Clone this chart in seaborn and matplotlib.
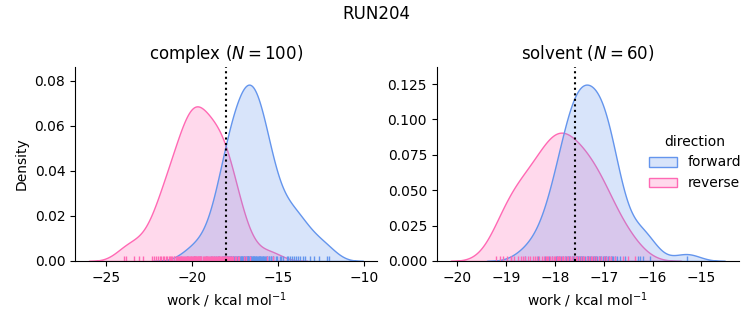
import matplotlib
matplotlib.use("Agg")
import matplotlib.pyplot as plt
import pandas as pd
import seaborn as sns

# ---- data (work values, kcal/mol) ----
complex_forward = [
    -20.31, -19.88, -19.57, -19.18, -18.93,
    -18.71, -18.62, -18.49, -18.41, -18.28,
    -18.21, -18.16, -18.09, -18.06, -17.99, -17.97, -17.94, -17.91, -17.84, -17.79,
    -17.74, -17.71, -17.64, -17.61, -17.56, -17.49, -17.46, -17.41, -17.33, -17.31, -17.26,
    -17.23, -17.17, -17.15, -17.09, -17.07, -17.01, -16.97, -16.95, -16.89, -16.87, -16.81, -16.79, -16.76,
    -16.73, -16.72, -16.69, -16.63, -16.61, -16.58, -16.55, -16.53, -16.47, -16.45, -16.39, -16.37, -16.31,
    -16.29, -16.26,
    -16.21, -16.19, -16.13, -16.11, -16.05, -16.03, -15.97, -15.95, -15.89, -15.87, -15.81, -15.78,
    -15.72, -15.65, -15.61, -15.54, -15.51, -15.43, -15.39, -15.31, -15.27,
    -15.13, -15.03, -14.87, -14.81,
    -14.71, -14.49, -14.41, -14.29,
    -14.19, -14.09, -13.94, -13.83,
    -13.69, -13.56, -13.41,
    -13.11, -12.88,
    -12.61,
    -12.16, -12.01,
]
complex_reverse = [
    -24.00, -23.88,
    -23.41,
    -23.09, -22.86,
    -22.36,
    -22.21, -22.09, -21.98, -21.89, -21.79,
    -21.72, -21.64, -21.55, -21.47, -21.37, -21.29,
    -21.21, -21.16, -21.07, -21.03, -20.94, -20.89, -20.81, -20.77,
    -20.72, -20.66, -20.63, -20.57, -20.51, -20.48, -20.41, -20.38, -20.31, -20.27,
    -20.23, -20.17, -20.15, -20.09, -20.05, -19.99, -19.96, -19.92, -19.89, -19.86, -19.81, -19.77,
    -19.75, -19.73, -19.67, -19.64, -19.62, -19.59, -19.55, -19.49, -19.46, -19.39, -19.31, -19.27,
    -19.22, -19.16, -19.13, -19.06, -19.02, -18.96, -18.93, -18.86, -18.82, -18.77,
    -18.72, -18.65, -18.61, -18.54, -18.51, -18.45, -18.43, -18.38, -18.34, -18.28,
    -18.22, -18.15, -18.11, -18.05, -18.03, -17.98, -17.91, -17.87, -17.81, -17.76,
    -17.69, -17.61, -17.49, -17.43, -17.33, -17.26,
    -16.99, -16.86,
    -16.61,
    -15.62,
    -15.31,
]
solvent_forward = [
    -18.61,
    -18.35, -18.21, -18.12,
    -18.05, -17.97, -17.95,
    -17.91, -17.87, -17.83, -17.80, -17.77, -17.74, -17.71,
    -17.68, -17.65, -17.63, -17.60, -17.57, -17.55, -17.54, -17.52, -17.50, -17.48, -17.46, -17.44,
    -17.42, -17.39, -17.35, -17.33, -17.32, -17.29, -17.25, -17.22, -17.20, -17.18,
    -17.16, -17.13, -17.10, -17.07, -17.05, -17.02, -17.00, -16.98, -16.96, -16.95,
    -16.92, -16.89, -16.86, -16.83, -16.80, -16.77, -16.73,
    -16.67, -16.57,
    -16.30, -16.25, -16.20,
    -16.05,
    -15.30,
]
solvent_reverse = [
    -19.20, -19.12,
    -19.05, -18.97, -18.90,
    -18.89, -18.83, -18.75, -18.69,
    -18.65, -18.60, -18.55, -18.50, -18.45,
    -18.40, -18.36, -18.32, -18.27, -18.23, -18.19,
    -18.16, -18.13, -18.09, -18.05, -18.02, -17.99, -17.96, -17.93,
    -17.92, -17.90, -17.86, -17.83, -17.79, -17.75, -17.72, -17.69,
    -17.65, -17.61, -17.57, -17.54, -17.50, -17.47, -17.43,
    -17.40, -17.35, -17.31, -17.27, -17.23, -17.19,
    -17.15, -17.10, -17.05, -17.00, -16.95,
    -16.90, -16.85, -16.77,
    -16.60, -16.50,
    -16.35,
]
complex_delta_f = -18.0
solvent_delta_f = -17.58

phases = ["complex", "solvent"]
directions = ["forward", "reverse"]
palette = {"forward": "cornflowerblue", "reverse": "hotpink"}

frames = []
for phase, fwd, rev in [("complex", complex_forward, complex_reverse),
                        ("solvent", solvent_forward, solvent_reverse)]:
    frames.append(pd.DataFrame({"work": fwd, "direction": "forward", "phase": phase}))
    frames.append(pd.DataFrame({"work": rev, "direction": "reverse", "phase": phase}))
df = pd.concat(frames, ignore_index=True)

g = sns.displot(
    data=df, x="work", hue="direction", col="phase", kind="kde",
    fill=True, rug=True, palette=palette, hue_order=directions,
    col_order=phases, facet_kws=dict(sharex=False, sharey=False),
    height=3.25, aspect=1.0,
)
fig = g.figure
fig.set_size_inches(7.53, 3.25)

g.set_axis_labels("work / kcal mol$^{-1}$", "Density")
ns = {"complex": len(complex_forward), "solvent": len(solvent_forward)}
deltas = {"complex": complex_delta_f, "solvent": solvent_delta_f}
positions = {"complex": [0.0996, 0.197, 0.401, 0.597],
             "solvent": [0.580, 0.197, 0.401, 0.597]}
for ax, phase in zip(g.axes.flat, phases):
    ax.set_title(f"{phase} ($N={ns[phase]}$)", fontsize=12)
    ax.axvline(deltas[phase], linestyle="dotted", color="k")
    ax.set_position(positions[phase])

sns.move_legend(g, "center left", bbox_to_anchor=(0.845, 0.50), frameon=False)
fig.suptitle("RUN204", fontsize=12, y=0.985)

fig.savefig("out.png", dpi=100)
